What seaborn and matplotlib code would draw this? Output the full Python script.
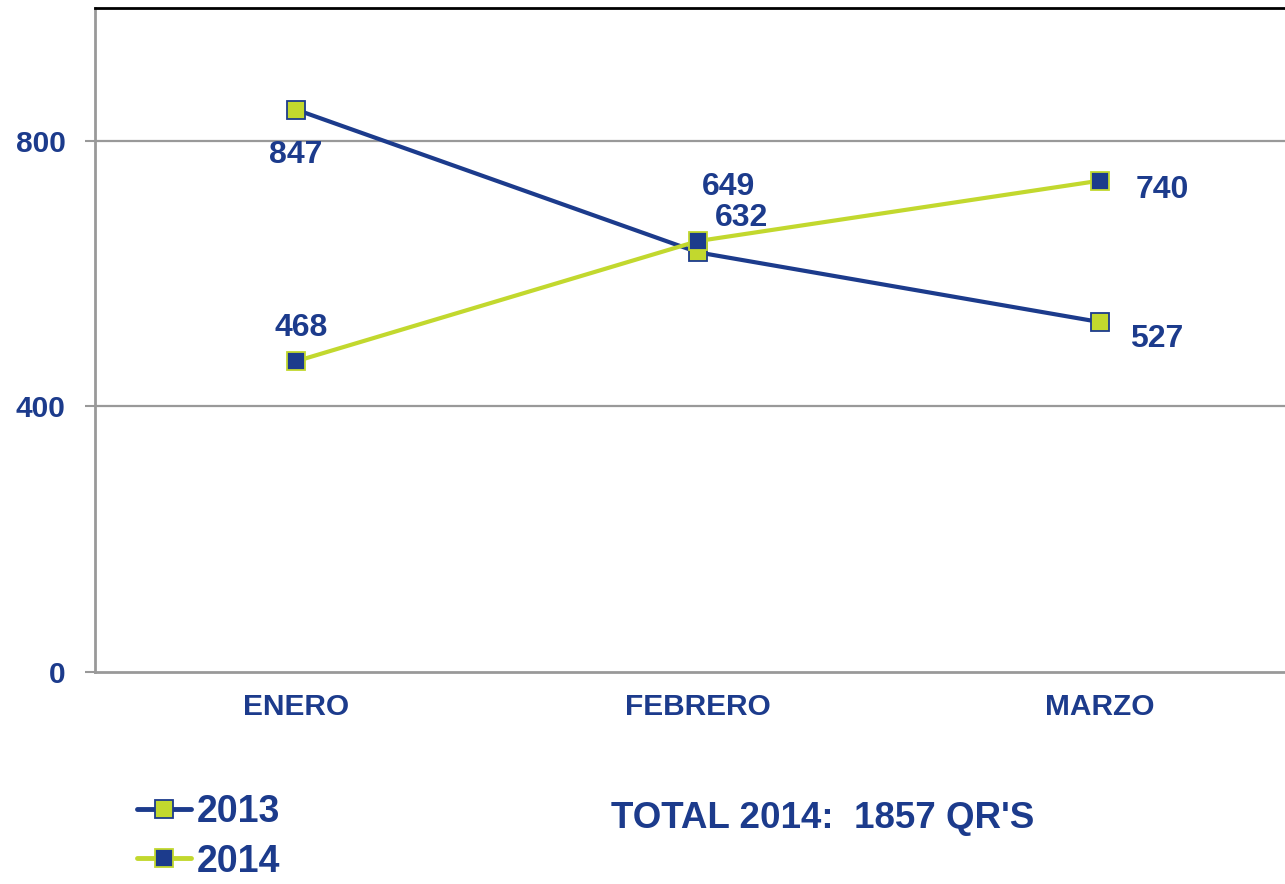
import matplotlib
matplotlib.use("Agg")
import matplotlib.pyplot as plt
import seaborn as sns
from matplotlib.lines import Line2D

months = ["ENERO", "FEBRERO", "MARZO"]
v2013 = [847, 632, 527]
v2014 = [468, 649, 740]
yticks = [0, 400, 800]
total_text = "TOTAL 2014:  1857 QR'S"

BLUE = "#1C3B8C"
GREEN = "#C2D82E"
GRID = "#999999"

sns.set_theme(style="white")
plt.rcParams["font.family"] = ["Liberation Sans", "DejaVu Sans"]
plt.rcParams["font.weight"] = "bold"

fig = plt.figure(figsize=(12.85, 8.84), dpi=100)
ax = fig.add_axes([95 / 1285, 212 / 884, (1301 - 95) / 1285, (672 - 8) / 884])

sns.lineplot(x=months, y=v2013, sort=False, ax=ax, color=BLUE, linewidth=3,
             marker="s", markersize=13, markerfacecolor=GREEN,
             markeredgecolor=BLUE, markeredgewidth=1.3, zorder=3)
sns.lineplot(x=months, y=v2014, sort=False, ax=ax, color=GREEN, linewidth=3,
             marker="s", markersize=13, markerfacecolor=BLUE,
             markeredgecolor=GREEN, markeredgewidth=1.3, zorder=4)

ax.set_xlim(-0.5, 2.5)
ax.set_ylim(0, 1000)
ax.set_yticks(yticks)
ax.set_yticklabels([str(t) for t in yticks], fontsize=21.5, color=BLUE, fontweight="bold")
ax.set_xticks(range(len(months)))
ax.set_xticklabels(months, fontsize=21.5, color=BLUE, fontweight="bold")
ax.set_xticks([-0.5, 0.5, 1.5, 2.5], minor=True)
ax.tick_params(axis="x", which="major", length=0, pad=15)
ax.tick_params(axis="x", which="minor", length=7, width=1.5, color=GRID, direction="out")
ax.tick_params(axis="y", which="major", length=7, width=1.5, color=GRID, direction="out", pad=14, left=True)
ax.set_xlabel("")
ax.set_ylabel("")

ax.grid(False)
for t in [400, 800]:
    ax.axhline(t, color=GRID, linewidth=1.6, zorder=1)

for s in ["left", "bottom"]:
    ax.spines[s].set_color(GRID)
    ax.spines[s].set_linewidth(2)
ax.spines["top"].set_color("black")
ax.spines["top"].set_linewidth(2)
ax.spines["right"].set_visible(False)

lab_kw = dict(textcoords="offset points", ha="center", va="center",
              fontsize=23, color=BLUE, fontweight="bold")
offs2013 = [(0, -33), (31, 25), (41, -12)]
offs2014 = [(4, 24), (22, 39), (45, -7)]
for i, (v, o) in enumerate(zip(v2013, offs2013)):
    ax.annotate(str(v), (i, v), xytext=o, **lab_kw)
for i, (v, o) in enumerate(zip(v2014, offs2014)):
    ax.annotate(str(v), (i, v), xytext=o, **lab_kw)

handles = [
    Line2D([], [], color=BLUE, linewidth=3.5, marker="s", markersize=13,
           markerfacecolor=GREEN, markeredgecolor=BLUE, markeredgewidth=1.3,
           solid_capstyle="round"),
    Line2D([], [], color=GREEN, linewidth=3.5, marker="s", markersize=13,
           markerfacecolor=BLUE, markeredgecolor=GREEN, markeredgewidth=1.3,
           solid_capstyle="round"),
]
leg = fig.legend(handles, ["2013", "2014"], loc="upper left",
                 bbox_to_anchor=(137 / 1285, 1 - 794 / 884), frameon=False,
                 fontsize=27, handlelength=1.45, handletextpad=0.15,
                 labelspacing=0.36, borderaxespad=0, borderpad=0)
for t in leg.get_texts():
    t.set_color(BLUE)
    t.set_fontweight("bold")

fig.text(611 / 1285, 1 - 819 / 884, total_text, fontsize=26.5, color=BLUE,
         fontweight="bold", ha="left", va="center")

fig.savefig("out.png", dpi=100)
